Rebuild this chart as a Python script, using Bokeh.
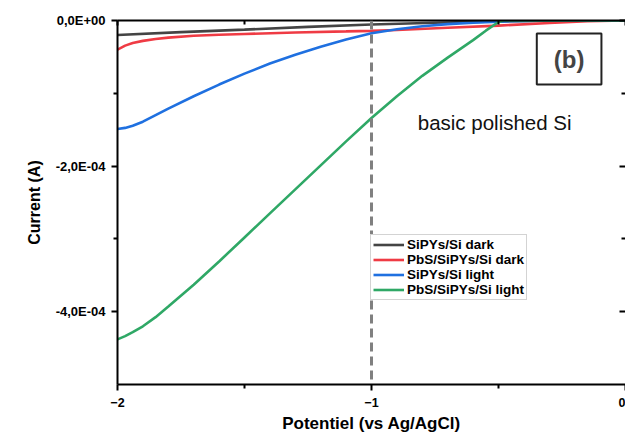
from bokeh.plotting import figure
from bokeh.models import (Range1d, LinearAxis, FixedTicker, CustomJSTickFormatter,
                          Span, Label, Legend, LegendItem)
from bokeh.embed import file_html
from bokeh.resources import INLINE

# ---- data ----
x_black = [-2.0, -1.75, -1.5, -1.25, -1.0, -0.75, -0.5, -0.25, 0.0]
y_black = [-2.0e-5, -1.6e-5, -1.25e-5, -8.8e-6, -5.5e-6, -3.0e-6, -1.2e-6, -3e-7, 0.0]

x_red = [-2.0, -1.97, -1.94, -1.9, -1.85, -1.8, -1.7, -1.6, -1.5, -1.3, -1.1, -1.0,
         -0.9, -0.7, -0.5, -0.3, -0.15, 0.0]
y_red = [-4.0e-5, -3.45e-5, -3.1e-5, -2.8e-5, -2.55e-5, -2.35e-5, -2.1e-5, -1.95e-5,
         -1.85e-5, -1.65e-5, -1.5e-5, -1.42e-5, -1.3e-5, -1.0e-5, -7e-6, -3.5e-6, -1e-6, 0.0]

x_blue = [-2.0, -1.97, -1.94, -1.9, -1.85, -1.8, -1.7, -1.6, -1.5, -1.4, -1.3, -1.2,
          -1.1, -1.0, -0.9, -0.8, -0.7, -0.6, -0.5, -0.4, -0.3, 0.0]
y_blue = [-1.49e-4, -1.475e-4, -1.445e-4, -1.39e-4, -1.30e-4, -1.21e-4, -1.04e-4,
          -8.8e-5, -7.3e-5, -5.9e-5, -4.7e-5, -3.6e-5, -2.6e-5, -1.75e-5, -1.2e-5,
          -8e-6, -5e-6, -3e-6, -1.5e-6, -5e-7, 0.0, 0.0]

x_green = [-2.0, -1.97, -1.94, -1.9, -1.85, -1.8, -1.7, -1.6, -1.5, -1.4, -1.3, -1.2,
           -1.1, -1.0, -0.9, -0.8, -0.7, -0.6, -0.55, -0.5, -0.48, 0.0]
y_green = [-4.38e-4, -4.335e-4, -4.28e-4, -4.20e-4, -4.075e-4, -3.93e-4, -3.63e-4,
           -3.31e-4, -2.98e-4, -2.65e-4, -2.32e-4, -1.99e-4, -1.66e-4, -1.34e-4,
           -1.04e-4, -7.6e-5, -5.1e-5, -2.7e-5, -1.4e-5, -2e-6, 0.0, 0.0]

names = ["SiPYs/Si dark", "PbS/SiPYs/Si dark", "SiPYs/Si light", "PbS/SiPYs/Si light"]
colors = ["#444444", "#ef3b44", "#1f70e0", "#2fa866"]

x_major = [-2, -1, 0]
x_minor = [-1.5, -0.5]
y_major = [0.0, -2e-4, -4e-4]
y_minor = [-1e-4, -3e-4]

FONT = "Liberation Sans"

p = figure(width=625, height=435, x_range=Range1d(-2, 0), y_range=Range1d(-5e-4, 0),
           output_backend="svg", toolbar_location=None,
           min_border_left=117, min_border_right=0, min_border_top=20, min_border_bottom=51,
           x_axis_label="Potentiel (vs Ag/AgCl)", y_axis_label="Current (A)")
p.outline_line_color = None
p.xgrid.visible = False
p.ygrid.visible = False
p.background_fill_color = "white"

xt = FixedTicker(ticks=x_major, minor_ticks=x_minor)
yt = FixedTicker(ticks=y_major, minor_ticks=y_minor)

p.xaxis.ticker = xt
p.yaxis.ticker = yt
p.yaxis.formatter = CustomJSTickFormatter(code="""
    if (Math.abs(tick) < 1e-12) { tick = 0; }
    const s = tick.toExponential(1);
    const parts = s.split('e');
    const sign = parts[1][0];
    let d = parts[1].slice(1);
    if (d.length < 2) { d = '0' + d; }
    return parts[0].replace('.', ',') + 'E' + sign + d;
""")

for ax in [p.xaxis[0], p.yaxis[0]]:
    ax.axis_line_width = 2
    ax.axis_line_color = "black"
    ax.major_tick_line_width = 2
    ax.minor_tick_line_width = 2
    ax.major_tick_out = 6
    ax.major_tick_in = 0
    ax.minor_tick_out = 4
    ax.minor_tick_in = 0
    ax.major_label_text_font = FONT
    ax.major_label_text_font_style = "bold"
    ax.major_label_text_color = "black"
    ax.axis_label_text_font = FONT
    ax.axis_label_text_font_style = "bold"
    ax.axis_label_text_color = "black"

p.xaxis.major_label_text_font_size = "12.5px"
p.xaxis.major_label_standoff = 7
p.xaxis.axis_label_standoff = 4
p.xaxis.axis_label_text_font_size = "17px"
p.yaxis.major_label_text_font_size = "13px"
p.yaxis.major_label_standoff = 6
p.yaxis.axis_label_standoff = 10
p.yaxis.axis_label_text_font_size = "16px"

blank = CustomJSTickFormatter(code="return '';")
top = LinearAxis(ticker=xt, formatter=blank, major_label_standoff=0,
                 axis_line_width=2, major_tick_line_width=2, minor_tick_line_width=2,
                 major_tick_in=5, major_tick_out=0, minor_tick_in=4, minor_tick_out=0)
p.add_layout(top, "above")
right = LinearAxis(ticker=yt, formatter=blank, major_label_standoff=0,
                   axis_line_color=None, major_tick_line_width=2, minor_tick_line_width=2,
                   major_tick_in=6, major_tick_out=0, minor_tick_in=4, minor_tick_out=0)
p.add_layout(right, "right")

p.add_layout(Span(location=-1, dimension="height", line_color="#808080",
                  line_width=3, line_dash="9 5"))

xs = [x_black, x_red, x_blue, x_green]
ys = [y_black, y_red, y_blue, y_green]
items = []
for xv, yv, c, n in zip(xs, ys, colors, names):
    r = p.line(xv, yv, line_color=c, line_width=2.6)
    items.append(LegendItem(label=n, renderers=[r]))

legend = Legend(items=items, location=(253, 84), label_text_font=FONT,
                label_text_font_style="bold", label_text_font_size="13.5px",
                label_text_color="black", glyph_width=31, glyph_height=15,
                label_height=15, label_standoff=3, spacing=0, padding=2, margin=0,
                border_line_color="#a8a8a8", border_line_width=1,
                background_fill_color="white", background_fill_alpha=1)
p.add_layout(legend, "center")

p.add_layout(Label(x=-0.222, y=-5.3e-5, text="(b)", text_font=FONT, text_font_style="bold",
                   text_font_size="24px", text_align="center", text_baseline="middle",
                   border_line_color="#222222", border_line_width=2,
                   background_fill_color="white", padding=(17, 12)))

p.add_layout(Label(x=-0.818, y=-1.40e-4, text="basic polished Si", text_font=FONT,
                   text_font_size="20.5px", text_align="left", text_baseline="middle",
                   text_color="#111111"))

open("out.html", "w").write(file_html(p, INLINE))
